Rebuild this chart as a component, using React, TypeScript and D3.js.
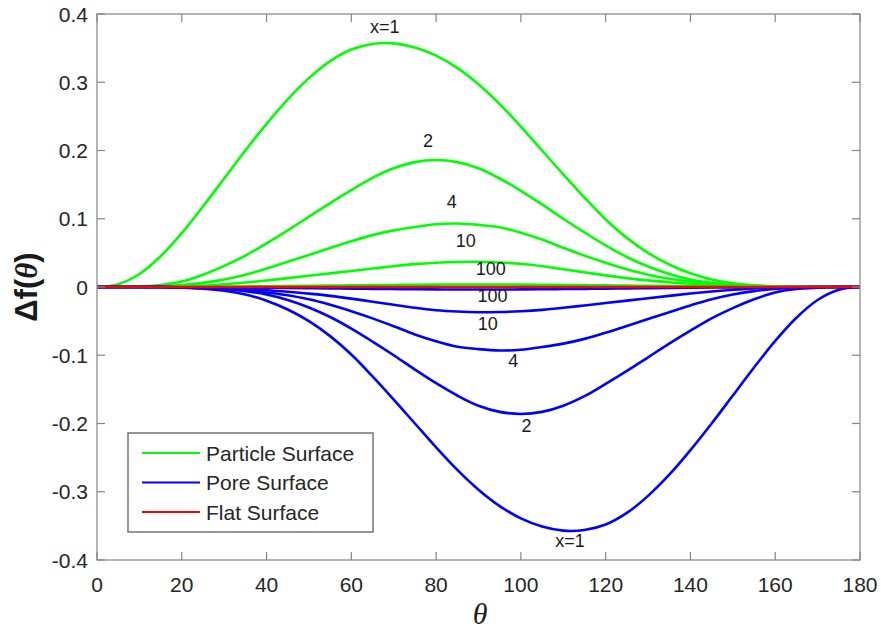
import React from "react";
import * as d3 from "d3";

const theta = [0, 5, 10, 15, 20, 25, 30, 35, 40, 45, 50, 55, 60, 65, 70, 75, 80, 85, 90, 95, 100, 105, 110, 115, 120, 125, 130, 135, 140, 145, 150, 155, 160, 165, 170, 175, 180];

// Particle surface (green)
const particle1 = [0, 0.004, 0.019, 0.045, 0.079, 0.118, 0.159, 0.2, 0.239, 0.275, 0.306, 0.331, 0.348, 0.356, 0.357, 0.351, 0.339, 0.321, 0.297, 0.268, 0.235, 0.2, 0.165, 0.131, 0.099, 0.072, 0.05, 0.033, 0.02, 0.011, 0.0055, 0.0025, 0.001, 0.0002, 0, 0, 0];
const particle2 = [0, 0, 0.001, 0.003, 0.008, 0.018, 0.031, 0.046, 0.064, 0.083, 0.103, 0.123, 0.142, 0.16, 0.174, 0.183, 0.186, 0.183, 0.174, 0.159, 0.141, 0.121, 0.1, 0.08, 0.061, 0.044, 0.03, 0.019, 0.011, 0.006, 0.003, 0.0015, 0.0005, 0, 0, 0, 0];
const particle4 = [0, 0, 0, 0.001, 0.003, 0.006, 0.011, 0.018, 0.027, 0.037, 0.047, 0.057, 0.067, 0.076, 0.083, 0.088, 0.092, 0.093, 0.091, 0.0875, 0.0795, 0.0695, 0.0575, 0.046, 0.0355, 0.026, 0.018, 0.012, 0.008, 0.005, 0.003, 0.0015, 0.0005, 0, 0, 0, 0];
const particle10 = [0, 0, 0, 0.0005, 0.001, 0.002, 0.004, 0.0065, 0.0095, 0.013, 0.0165, 0.02, 0.0235, 0.027, 0.0305, 0.0335, 0.0355, 0.0367, 0.037, 0.036, 0.034, 0.0305, 0.026, 0.0215, 0.017, 0.013, 0.0097, 0.007, 0.0047, 0.003, 0.0018, 0.001, 0.0004, 0, 0, 0, 0];
const particle100 = [0, 0, 0.0001, 0.0002, 0.0003, 0.0005, 0.0006, 0.0008, 0.0011, 0.0014, 0.0017, 0.002, 0.0024, 0.0027, 0.003, 0.0033, 0.0035, 0.0037, 0.0037, 0.0037, 0.0035, 0.0033, 0.003, 0.0027, 0.0024, 0.002, 0.0017, 0.0014, 0.0011, 0.0008, 0.0006, 0.0004, 0.0003, 0.0001, 0, 0, 0];

// Pore surface (blue)
const pore1 = [0, 0, 0, -0.0002, -0.001, -0.0025, -0.0055, -0.011, -0.02, -0.033, -0.05, -0.072, -0.099, -0.131, -0.165, -0.2, -0.235, -0.268, -0.297, -0.321, -0.339, -0.351, -0.357, -0.356, -0.348, -0.331, -0.306, -0.275, -0.239, -0.2, -0.159, -0.118, -0.079, -0.045, -0.019, -0.004, 0];
const pore2 = [0, 0, 0, 0, -0.0005, -0.0015, -0.003, -0.006, -0.011, -0.019, -0.03, -0.044, -0.061, -0.08, -0.1, -0.121, -0.141, -0.159, -0.174, -0.183, -0.186, -0.183, -0.174, -0.16, -0.142, -0.123, -0.103, -0.083, -0.064, -0.046, -0.031, -0.018, -0.008, -0.003, -0.001, 0, 0];
const pore4 = [0, 0, 0, 0, -0.0005, -0.0015, -0.003, -0.005, -0.008, -0.012, -0.018, -0.026, -0.0355, -0.046, -0.0575, -0.0695, -0.0795, -0.0875, -0.091, -0.093, -0.092, -0.088, -0.083, -0.076, -0.067, -0.057, -0.047, -0.037, -0.027, -0.018, -0.011, -0.006, -0.003, -0.001, 0, 0, 0];
const pore10 = [0, 0, 0, 0, -0.0004, -0.001, -0.0018, -0.003, -0.0047, -0.007, -0.0097, -0.013, -0.017, -0.0215, -0.026, -0.0305, -0.034, -0.036, -0.037, -0.0367, -0.0355, -0.0335, -0.0305, -0.027, -0.0235, -0.02, -0.0165, -0.013, -0.0095, -0.0065, -0.004, -0.002, -0.001, -0.0005, 0, 0, 0];
const pore100 = [0, 0, 0, -0.0001, -0.0003, -0.0004, -0.0006, -0.0008, -0.0011, -0.0014, -0.0017, -0.002, -0.0024, -0.0027, -0.003, -0.0033, -0.0035, -0.0037, -0.0037, -0.0037, -0.0035, -0.0033, -0.003, -0.0027, -0.0024, -0.002, -0.0017, -0.0014, -0.0011, -0.0008, -0.0006, -0.0005, -0.0003, -0.0002, -0.0001, 0, 0];

// Flat surface (red)
const flat = [0, 0, 0, 0, 0, 0, 0, 0, 0, 0, 0, 0, 0, 0, 0, 0, 0, 0, 0, 0, 0, 0, 0, 0, 0, 0, 0, 0, 0, 0, 0, 0, 0, 0, 0, 0, 0];

const xTicks = [0, 20, 40, 60, 80, 100, 120, 140, 160, 180];
const yTicks = [-0.4, -0.3, -0.2, -0.1, 0, 0.1, 0.2, 0.3, 0.4];
const yTickLabels = ["-0.4", "-0.3", "-0.2", "-0.1", "0", "0.1", "0.2", "0.3", "0.4"];

// Curve annotations: text, theta, value
const annoText = ["x=1", "2", "4", "10", "100", "100", "10", "4", "2", "x=1"];
const annoTheta = [67.9, 78.1, 83.7, 87.0, 92.9, 93.3, 92.2, 98.2, 101.3, 111.6];
const annoValue = [0.381, 0.215, 0.125, 0.068, 0.027, -0.013, -0.053, -0.108, -0.203, -0.372];

const legendLabels = ["Particle Surface", "Pore Surface", "Flat Surface"];
const legendColors = ["#00ff00", "#0000ff", "#ff0000"];

const W = 881;
const H = 632;
const left = 97, right = 860, top = 14, bottom = 560;

export default function App() {
  const x = d3.scaleLinear().domain([0, 180]).range([left, right]);
  const y = d3.scaleLinear().domain([-0.4, 0.4]).range([bottom, top]);
  const line = d3
    .line<number>()
    .x((_, i) => x(theta[i]))
    .y((d) => y(d))
    .curve(d3.curveCatmullRom.alpha(0.5));

  const green = [particle1, particle2, particle4, particle10, particle100];
  const blue = [pore1, pore2, pore4, pore10, pore100];
  const axisColor = "#858585";
  const textColor = "#262626";
  const font = "'Liberation Sans', Arial, Helvetica, sans-serif";
  const tickLen = 8;

  return (
    <svg
      width={W}
      height={H}
      style={{ position: "absolute", left: 0, top: 0, background: "#fff" }}
      fontFamily={font}
    >
      <rect x={0} y={0} width={W} height={H} fill="#fff" />
      <defs>
        <clipPath id="plotclip">
          <rect x={left} y={top - 2} width={right - left} height={bottom - top + 4} />
        </clipPath>
      </defs>
      {/* curves */}
      <g clipPath="url(#plotclip)" fill="none" strokeLinejoin="round" strokeLinecap="round">
        {green.map((s, i) => (
          <path key={"g" + i} d={line(s) || ""} stroke="#00ff00" strokeWidth={2.6} />
        ))}
        {blue.map((s, i) => (
          <path key={"b" + i} d={line(s) || ""} stroke="#0000ff" strokeWidth={2.6} />
        ))}
        <path d={line(flat) || ""} stroke="#ff0000" strokeWidth={2.6} />
      </g>
      {/* box */}
      <rect
        x={left}
        y={top}
        width={right - left}
        height={bottom - top}
        fill="none"
        stroke={axisColor}
        strokeWidth={1.2}
      />
      {/* x ticks */}
      {xTicks.map((t) => (
        <g key={"xt" + t}>
          <line x1={x(t)} x2={x(t)} y1={bottom} y2={bottom - tickLen} stroke={axisColor} strokeWidth={1.2} />
          <line x1={x(t)} x2={x(t)} y1={top} y2={top + tickLen} stroke={axisColor} strokeWidth={1.2} />
          <text x={x(t)} y={bottom + 32} textAnchor="middle" fontSize={21} fill={textColor}>
            {t}
          </text>
        </g>
      ))}
      {/* y ticks */}
      {yTicks.map((t, i) => (
        <g key={"yt" + i}>
          <line x1={left} x2={left + tickLen} y1={y(t)} y2={y(t)} stroke={axisColor} strokeWidth={1.2} />
          <line x1={right} x2={right - tickLen} y1={y(t)} y2={y(t)} stroke={axisColor} strokeWidth={1.2} />
          <text x={left - 9} y={y(t) + 7.5} textAnchor="end" fontSize={21} fill={textColor}>
            {yTickLabels[i]}
          </text>
        </g>
      ))}
      {/* annotations */}
      {annoText.map((t, i) => (
        <text
          key={"a" + i}
          x={x(annoTheta[i])}
          y={y(annoValue[i]) + 6.5}
          textAnchor="middle"
          fontSize={18}
          fill="#1a1a1a"
        >
          {t}
        </text>
      ))}
      {/* axis labels */}
      <text
        x={480}
        y={624}
        textAnchor="middle"
        fontSize={30}
        fontStyle="italic"
        fontFamily="'Liberation Serif', 'DejaVu Serif', serif"
        fill="#1a1a1a"
      >
        θ
      </text>
      <text
        transform={`translate(37, ${y(0)}) rotate(-90)`}
        textAnchor="middle"
        fontSize={31}
        fontWeight="bold"
        fill="#1a1a1a"
      >
        Δf(
        <tspan fontStyle="italic" fontFamily="'Liberation Serif', serif">θ</tspan>)
      </text>
      {/* legend */}
      <g>
        <rect x={128} y={433} width={245} height={99} fill="#fff" stroke="#6b6b6b" strokeWidth={1.4} />
        {legendLabels.map((l, i) => (
          <g key={"l" + i}>
            <line x1={142} x2={200} y1={453 + i * 29.5} y2={453 + i * 29.5} stroke={legendColors[i]} strokeWidth={2} />
            <text x={206} y={453 + i * 29.5 + 7.5} fontSize={21} fill={textColor}>
              {l}
            </text>
          </g>
        ))}
      </g>
    </svg>
  );
}
